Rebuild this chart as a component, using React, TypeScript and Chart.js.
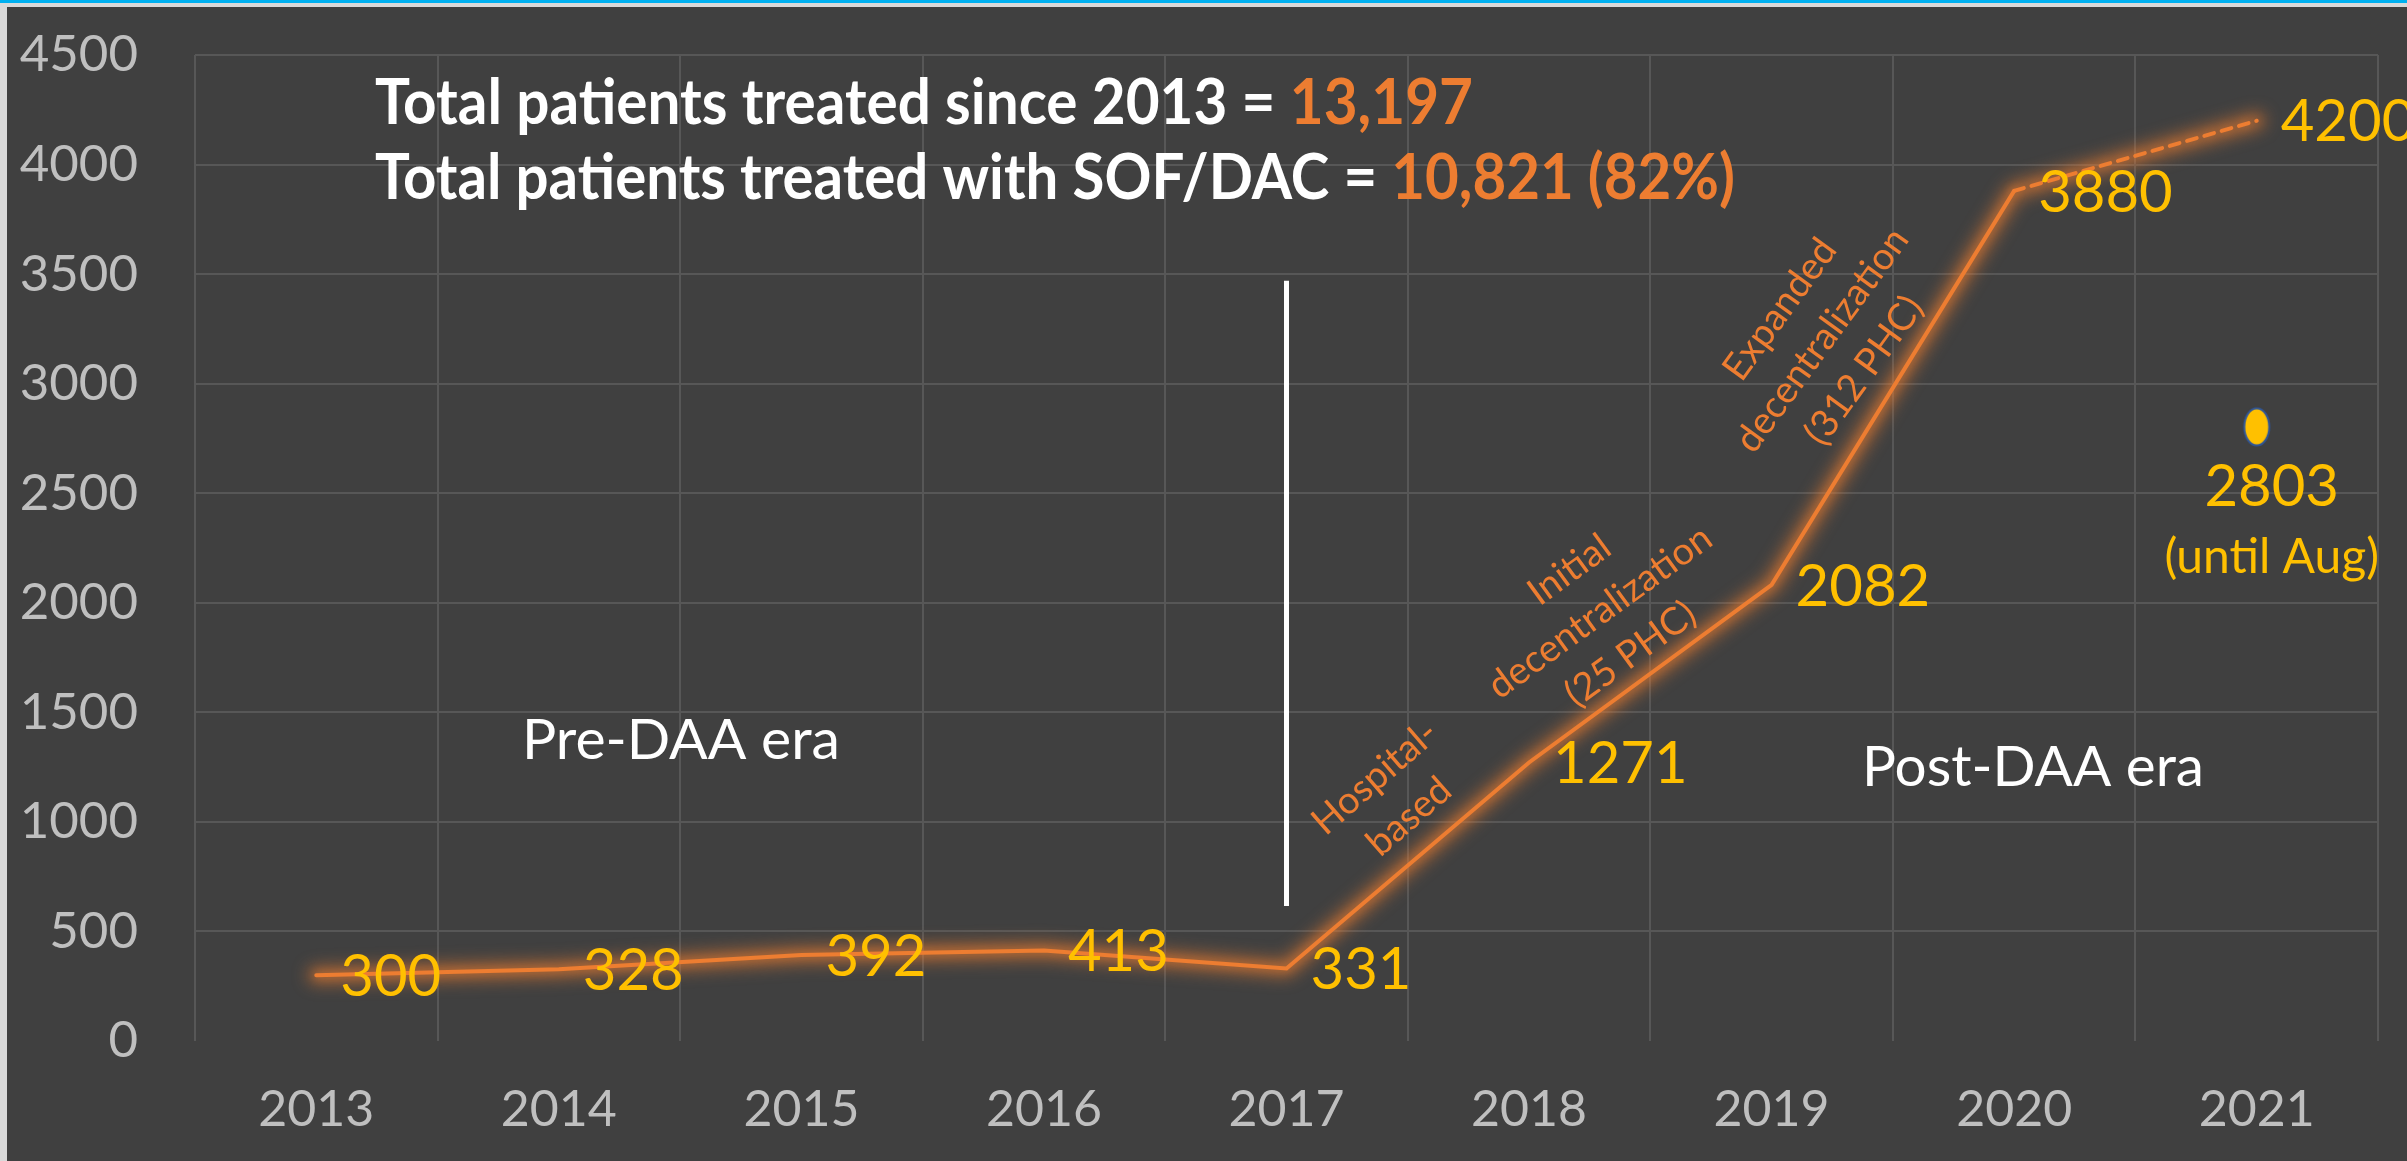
import React, { useEffect, useRef } from "react";
import { Chart, registerables } from "chart.js";

Chart.register(...registerables);

// ---------- data ----------
const years = ["2013", "2014", "2015", "2016", "2017", "2018", "2019", "2020", "2021"];
const patientsTreated = [300, 328, 392, 413, 331, 1271, 2082, 3880, 4200];
const treatedUntilAug2021 = [null, null, null, null, null, null, null, null, 2803];
const yMin = 0;
const yMax = 4500;
const yStep = 500;

const titleLine1 = [
  { text: "Total patients treated since 2013 = ", color: "#FFFFFF" },
  { text: "13,197", color: "#ED7D31" },
];
const titleLine2 = [
  { text: "Total patients treated with SOF/DAC = ", color: "#FFFFFF" },
  { text: "10,821 (82%)", color: "#ED7D31" },
];
const eraLabels = ["Pre-DAA era", "Post-DAA era"];
const phaseLabels = [
  ["Hospital-", "based"],
  ["Initial", "decentralization", "(25 PHC)"],
  ["Expanded", "decentralization", "(312 PHC)"],
];
const partialLabel = ["2803", "(until Aug)"];
// divider between eras: at 2017, spanning these values
const dividerCategory = 4;
const dividerRange = [616, 3470];

const BG = "#404040";
const GRID = "#575757";
const TICK = "#BFBFBF";
const ORANGE = "#ED7D31";
const YELLOW = "#FFC000";
const FONT = "Lato, 'Open Sans', sans-serif";

type Seg = { text: string; color: string };

function drawSegs(
  ctx: CanvasRenderingContext2D,
  segs: Seg[],
  x: number,
  y: number,
  font: string,
  targetWidth: number | null,
  align: "left" | "center",
  baseline: CanvasTextBaseline
) {
  ctx.save();
  ctx.font = font;
  ctx.textBaseline = baseline;
  ctx.textAlign = "left";
  const widths = segs.map((s) => ctx.measureText(s.text).width);
  const total = widths.reduce((a, b) => a + b, 0);
  const sx = targetWidth ? targetWidth / total : 1;
  ctx.translate(x, y);
  ctx.scale(sx, 1);
  let cx = align === "center" ? -total / 2 : 0;
  segs.forEach((s, i) => {
    ctx.fillStyle = s.color;
    ctx.fillText(s.text, cx, 0);
    cx += widths[i];
  });
  ctx.restore();
}

function drawRotatedBlock(
  ctx: CanvasRenderingContext2D,
  lines: string[],
  cx: number,
  cy: number,
  angleDeg: number,
  font: string,
  lineHeight: number,
  color: string
) {
  ctx.save();
  ctx.translate(cx, cy);
  ctx.rotate((angleDeg * Math.PI) / 180);
  ctx.font = font;
  ctx.fillStyle = color;
  ctx.textAlign = "center";
  ctx.textBaseline = "middle";
  const n = lines.length;
  lines.forEach((l, i) => {
    ctx.fillText(l, 0, (i - (n - 1) / 2) * lineHeight);
  });
  ctx.restore();
}

function makeDot(): HTMLCanvasElement {
  const c = document.createElement("canvas");
  c.width = 30;
  c.height = 42;
  const g = c.getContext("2d")!;
  g.beginPath();
  g.ellipse(15, 21, 12.5, 18.5, 0, 0, Math.PI * 2);
  g.fillStyle = YELLOW;
  g.fill();
  g.lineWidth = 2;
  g.strokeStyle = "#2F5597";
  g.stroke();
  return c;
}

const backgroundPlugin = {
  id: "bgFrame",
  beforeDraw(chart: any) {
    const { ctx, width, height } = chart;
    ctx.save();
    ctx.fillStyle = BG;
    ctx.fillRect(0, 0, width, height);
    ctx.fillStyle = "#D9D9D9";
    ctx.fillRect(0, 0, 7, height);
    ctx.fillRect(0, 0, width, 7);
    ctx.fillStyle = "#00B0F0";
    ctx.fillRect(0, 0, width, 3);
    ctx.restore();
  },
};

// soft orange halo under the main line (drawn through the dataset's own points)
const glowPlugin = {
  id: "glow",
  beforeDatasetDraw(chart: any, args: any) {
    if (args.index !== 0) return;
    const ctx: CanvasRenderingContext2D = chart.ctx;
    const pts = chart.getDatasetMeta(0).data;
    ctx.save();
    ctx.filter = "blur(8px)";
    ctx.strokeStyle = "rgba(237,125,49,0.55)";
    ctx.lineWidth = 18;
    ctx.lineJoin = "round";
    ctx.lineCap = "round";
    ctx.beginPath();
    pts.forEach((p: any, i: number) => (i === 0 ? ctx.moveTo(p.x, p.y) : ctx.lineTo(p.x, p.y)));
    ctx.stroke();
    ctx.restore();
    ctx.save();
    ctx.shadowColor = "rgba(237,125,49,0.7)";
    ctx.shadowBlur = 10;
  },
  afterDatasetDraw(chart: any, args: any) {
    if (args.index !== 0) return;
    chart.ctx.restore();
  },
};

const annotationPlugin = {
  id: "annotations",
  afterDatasetsDraw(chart: any) {
    const ctx: CanvasRenderingContext2D = chart.ctx;
    const xs = chart.scales.x;
    const ys = chart.scales.y;

    // era divider
    const dx = xs.getPixelForValue(dividerCategory);
    ctx.save();
    ctx.strokeStyle = "#FFFFFF";
    ctx.lineWidth = 5;
    ctx.beginPath();
    ctx.moveTo(dx, ys.getPixelForValue(dividerRange[1]));
    ctx.lineTo(dx, ys.getPixelForValue(dividerRange[0]));
    ctx.stroke();
    ctx.restore();

    // titles
    drawSegs(ctx, titleLine1, 375, 124, `bold 63px ${FONT}`, 1098, "left", "alphabetic");
    drawSegs(ctx, titleLine2, 375, 199, `bold 63px ${FONT}`, 1360, "left", "alphabetic");

    // era labels
    drawSegs(ctx, [{ text: eraLabels[0], color: "#FFFFFF" }], 681, 741, `56px ${FONT}`, 318, "center", "middle");
    drawSegs(ctx, [{ text: eraLabels[1], color: "#FFFFFF" }], 2033, 768, `56px ${FONT}`, 342, "center", "middle");

    // phase labels (rotated)
    drawRotatedBlock(ctx, phaseLabels[0], 1392, 797, -41, `38px ${FONT}`, 52, ORANGE);
    drawRotatedBlock(ctx, phaseLabels[1], 1600, 612, -36, `38px ${FONT}`, 52, ORANGE);
    drawRotatedBlock(ctx, phaseLabels[2], 1822, 340, -54, `38px ${FONT}`, 52, ORANGE);

    // data labels on the line
    const meta = chart.getDatasetMeta(0);
    ctx.save();
    ctx.font = `58px ${FONT}`;
    ctx.fillStyle = YELLOW;
    ctx.textAlign = "left";
    ctx.textBaseline = "middle";
    meta.data.forEach((pt: any, i: number) => {
      ctx.fillText(String(patientsTreated[i]), pt.x + 24, pt.y + 2);
    });
    ctx.restore();

    // partial 2021 label
    const meta2 = chart.getDatasetMeta(1);
    const p = meta2.data[8];
    if (p) {
      ctx.save();
      ctx.fillStyle = YELLOW;
      ctx.textAlign = "center";
      ctx.textBaseline = "middle";
      ctx.font = `58px ${FONT}`;
      ctx.fillText(partialLabel[0], p.x + 15, p.y + 60);
      ctx.font = `48px ${FONT}`;
      ctx.fillText(partialLabel[1], p.x + 15, p.y + 131);
      ctx.restore();
    }
  },
};

export default function App() {
  const canvasRef = useRef<HTMLCanvasElement | null>(null);

  useEffect(() => {
    let chart: Chart | null = null;
    let cancelled = false;
    const make = () => {
      if (cancelled || !canvasRef.current) return;
      chart = new Chart(canvasRef.current, {
        type: "line",
        data: {
          labels: years,
          datasets: [
            {
              label: "Patients treated",
              data: patientsTreated,
              borderColor: ORANGE,
              borderWidth: 4,
              pointRadius: 0,
              tension: 0,
              fill: false,
              borderCapStyle: "round",
              segment: {
                borderDash: (c: any) => (c.p0DataIndex === 7 ? [10, 8] : undefined),
              },
            } as any,
            {
              label: "2021 until Aug",
              data: treatedUntilAug2021,
              showLine: false,
              pointStyle: makeDot(),
              pointRadius: 15,
            } as any,
          ],
        },
        options: {
          responsive: false,
          devicePixelRatio: 1,
          animation: false,
          events: [],
          layout: { padding: { top: 55, right: 29, left: 0, bottom: 0 } },
          plugins: { legend: { display: false }, tooltip: { enabled: false } },
          scales: {
            x: {
              type: "category",
              offset: true,
              grid: { color: GRID, lineWidth: 2, drawTicks: false, offset: true },
              border: { display: false },
              ticks: {
                color: TICK,
                font: { family: FONT, size: 50 },
                padding: 39,
                maxRotation: 0,
                autoSkip: false,
              },
              afterFit: (s: any) => {
                s.height = 120;
              },
            },
            y: {
              min: yMin,
              max: yMax,
              grid: {
                color: (c: any) => (c.tick && c.tick.value === 0 ? "rgba(0,0,0,0)" : GRID),
                lineWidth: 2,
                drawTicks: true,
                tickLength: 57,
                tickColor: "rgba(0,0,0,0)",
              },
              border: { display: false },
              ticks: {
                stepSize: yStep,
                color: TICK,
                font: { family: FONT, size: 51 },
                padding: 0,
                callback: (v: any) => String(v),
              },
              afterFit: (s: any) => {
                s.width = 195;
              },
            },
          },
        } as any,
        plugins: [backgroundPlugin, glowPlugin, annotationPlugin],
      });
    };
    const fonts = (document as any).fonts;
    if (fonts && fonts.load) {
      Promise.all([fonts.load(`50px Lato`), fonts.load(`bold 60px Lato`)]).then(make, make);
    } else {
      make();
    }
    return () => {
      cancelled = true;
      if (chart) chart.destroy();
    };
  }, []);

  return (
    <div style={{ position: "fixed", left: 0, top: 0, width: 2407, height: 1161, background: BG }}>
      <canvas
        ref={canvasRef}
        width={2407}
        height={1161}
        style={{ display: "block", width: 2407, height: 1161 }}
      />
    </div>
  );
}
